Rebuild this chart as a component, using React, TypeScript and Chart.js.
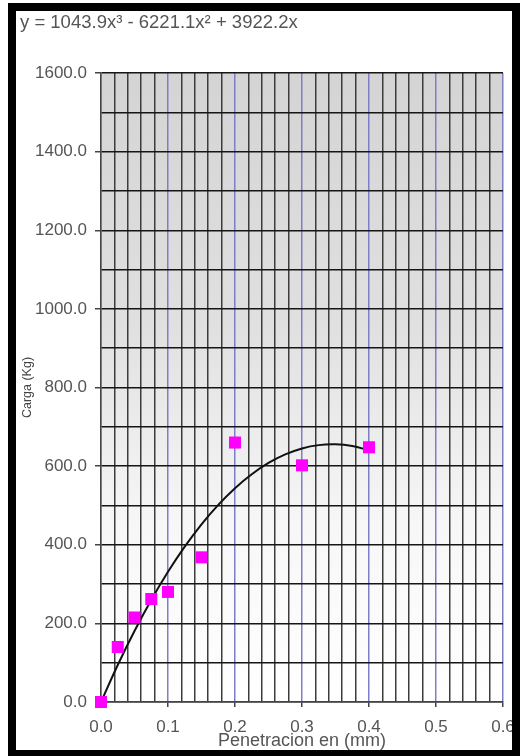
import React, { useEffect, useRef } from "react";
import { Chart, registerables } from "chart.js";

Chart.register(...registerables);

const equationLabel = "y = 1043.9x³ - 6221.1x² + 3922.2x";
const xAxisTitle = "Penetracion en (mm)";
const yAxisTitle = "Carga (Kg)";

// measured points
const penetration = [0, 0.025, 0.05, 0.075, 0.1, 0.15, 0.2, 0.3, 0.4];
const load = [0, 140, 215, 262, 280, 368, 660, 602, 648];

// trend line points (polynomial shown at the top of the chart)
const trendX = [0, 0.025, 0.05, 0.075, 0.1, 0.125, 0.15, 0.175, 0.2, 0.225, 0.25, 0.275, 0.3, 0.325, 0.35, 0.375, 0.4];
const trendY = [0, 94.2, 180.7, 259.6, 331.1, 395.1, 451.9, 501.5, 544.0, 579.4, 608.0, 629.8, 645.0, 653.4, 655.4, 651.0, 640.3];

const xMin = 0;
const xMax = 0.6;
const xStep = 0.02;
const yMin = 0;
const yMax = 1600;
const yStep = 100;

const FONT = "'Liberation Sans', Arial, sans-serif";

const bgPlugin = {
  id: "plotBg",
  beforeDraw(chart: any) {
    const { ctx, chartArea } = chart;
    if (!chartArea) return;
    const g = ctx.createLinearGradient(0, chartArea.top, 0, chartArea.bottom);
    g.addColorStop(0, "#d4d4d4");
    g.addColorStop(0.4, "#e0e0e0");
    g.addColorStop(0.72, "#f7f7f7");
    g.addColorStop(1, "#ffffff");
    ctx.save();
    ctx.fillStyle = g;
    ctx.fillRect(chartArea.left, chartArea.top, chartArea.right - chartArea.left, chartArea.bottom - chartArea.top);
    ctx.restore();
  },
};

export default function App() {
  const ref = useRef<HTMLCanvasElement | null>(null);

  useEffect(() => {
    if (!ref.current) return;
    const isMajorX = (v: number) => Math.abs(Math.round(v * 10) - v * 10) < 1e-6;
    const isMajorY = (v: number) => Math.round(v) % 200 === 0;
    const chart = new Chart(ref.current, {
      type: "scatter",
      data: {
        datasets: [
          {
            label: "Datos",
            data: penetration.map((x, i) => ({ x, y: load[i] })),
            pointStyle: "rect",
            pointRadius: 8.5,
            pointHoverRadius: 8.5,
            backgroundColor: "#ff00ff",
            borderColor: "#ff00ff",
            borderWidth: 0,
            showLine: false,
            clip: false,
          },
          {
            label: "Tendencia",
            data: trendX.map((x, i) => ({ x, y: trendY[i] })),
            showLine: true,
            pointRadius: 0,
            borderColor: "#111111",
            borderWidth: 2,
            tension: 0.4,
            fill: false,
          },
        ],
      },
      options: {
        animation: false,
        responsive: false,
        maintainAspectRatio: false,
        layout: { padding: { left: 4, right: 9, top: 0, bottom: 0 } },
        plugins: {
          legend: { display: false },
          tooltip: { enabled: false },
          title: {
            display: true,
            text: equationLabel,
            align: "start",
            color: "#555555",
            font: { family: FONT, size: 18.5, weight: "normal", lineHeight: 1.2 },
            padding: { top: 1, bottom: 38.8 },
          },
        },
        scales: {
          x: {
            type: "linear",
            min: xMin,
            max: xMax,
            afterFit(scale: any) {
              scale.height = 48;
              scale.paddingLeft = 0;
              scale.paddingRight = 0;
            },
            ticks: {
              stepSize: xStep,
              autoSkip: false,
              maxRotation: 0,
              padding: 10,
              color: "#555555",
              font: { family: FONT, size: 17 },
              callback: (v: any) => (isMajorX(Number(v)) ? Number(v).toFixed(1) : ""),
            },
            grid: {
              color: (c: any) => (isMajorX(c.tick.value) ? "#7e7ec8" : "#3c3c3c"),
              tickColor: (c: any) => (isMajorX(c.tick.value) ? "#444444" : "rgba(0,0,0,0)"),
              tickLength: 5,
              lineWidth: 1.5,
            },
            border: { color: "#444444", width: 1.5 },
            title: {
              display: true,
              text: xAxisTitle,
              color: "#555555",
              font: { family: FONT, size: 18, lineHeight: 1 },
              padding: { top: 0, bottom: 0 },
            },
          },
          y: {
            type: "linear",
            min: yMin,
            max: yMax,
            afterFit(scale: any) {
              scale.width = 81;
              scale.paddingTop = 0;
              scale.paddingBottom = 0;
            },
            ticks: {
              stepSize: yStep,
              autoSkip: false,
              padding: 8,
              color: "#555555",
              font: { family: FONT, size: 17 },
              callback: (v: any) => (isMajorY(Number(v)) ? Number(v).toFixed(1) : ""),
            },
            grid: {
              color: "#151515",
              tickColor: (c: any) => (isMajorY(c.tick.value) ? "#444444" : "rgba(0,0,0,0)"),
              tickLength: 6,
              lineWidth: 1.5,
            },
            border: { color: "#444444", width: 1.5 },
            title: {
              display: true,
              text: yAxisTitle,
              color: "#444444",
              font: { family: FONT, size: 12.5, lineHeight: 1.2 },
              padding: { top: 0, bottom: 0 },
            },
          },
        },
      },
      plugins: [bgPlugin],
    } as any);
    return () => chart.destroy();
  }, []);

  return (
    <div
      style={{
        position: "fixed",
        left: 8,
        top: 3,
        width: 496,
        height: 739,
        borderStyle: "solid",
        borderColor: "#000",
        borderWidth: "8px 8px 6px 8px",
        background: "#fff",
        overflow: "hidden",
      }}
    >
      <canvas ref={ref} width={496} height={739} style={{ display: "block" }} />
    </div>
  );
}
